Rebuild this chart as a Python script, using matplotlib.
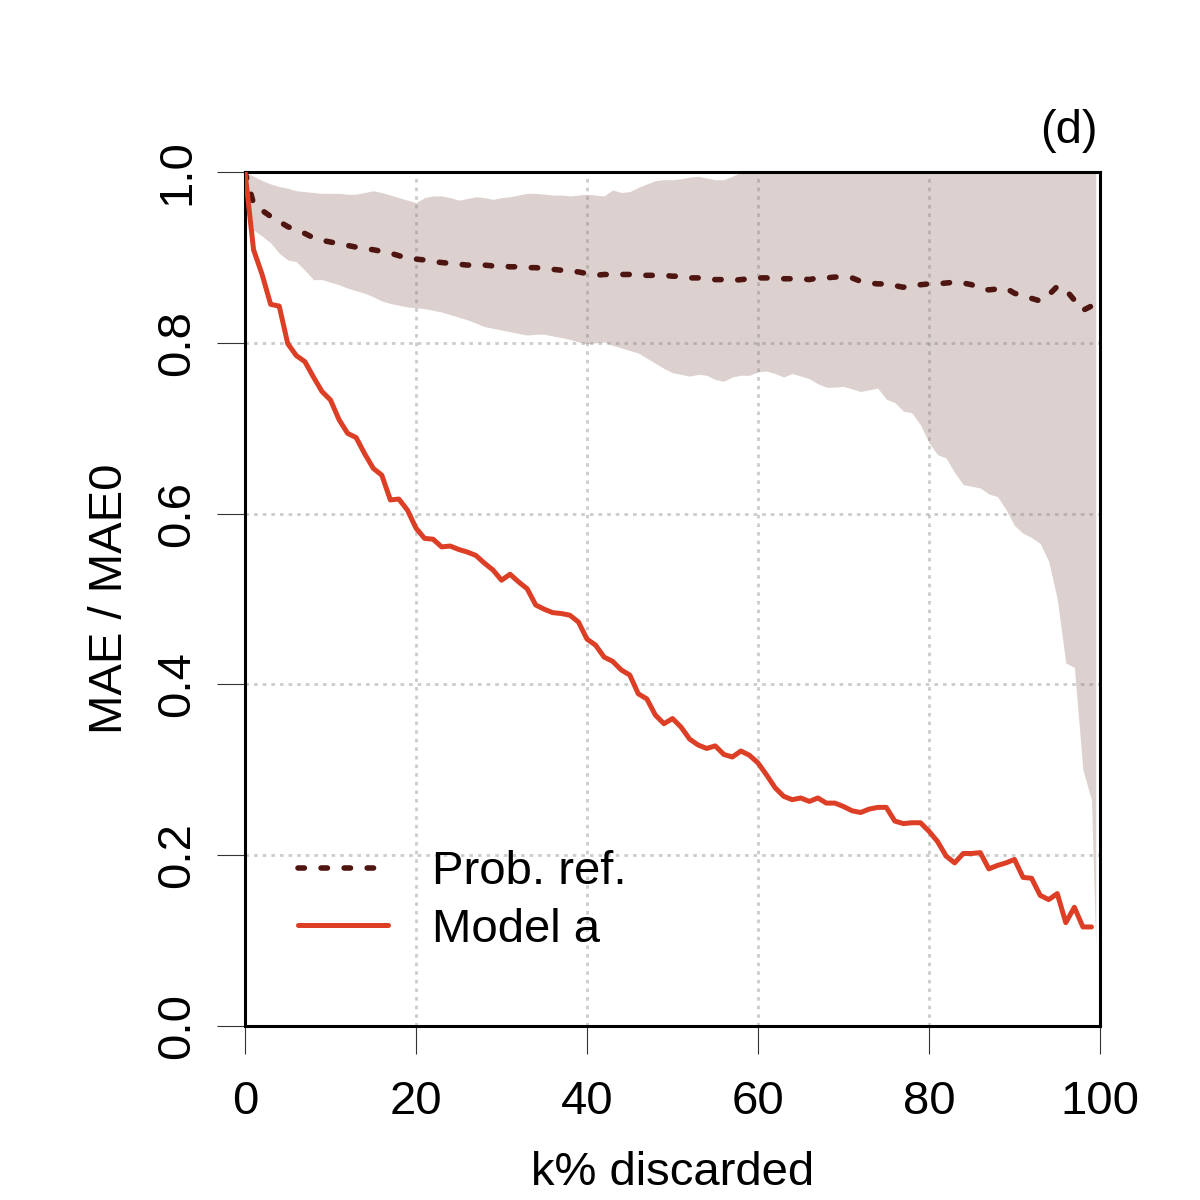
import numpy as np
import matplotlib
matplotlib.use("Agg")
import matplotlib.pyplot as plt

# k% discarded, one value per percent
k = list(range(0, 100))

model_a = [1.000, 0.909, 0.880, 0.845, 0.843, 0.799, 0.785, 0.778, 0.760, 0.743,
           0.733, 0.710, 0.694, 0.689, 0.670, 0.653, 0.645, 0.616, 0.617, 0.604,
           0.583, 0.571, 0.570, 0.561, 0.562, 0.558, 0.555, 0.551, 0.542, 0.534,
           0.522, 0.529, 0.520, 0.512, 0.493, 0.488, 0.484, 0.483, 0.481, 0.473,
           0.453, 0.446, 0.432, 0.427, 0.417, 0.411, 0.389, 0.383, 0.364, 0.354,
           0.360, 0.350, 0.336, 0.329, 0.325, 0.328, 0.318, 0.315, 0.322, 0.317,
           0.308, 0.294, 0.279, 0.269, 0.265, 0.267, 0.263, 0.267, 0.261, 0.261,
           0.257, 0.252, 0.250, 0.254, 0.256, 0.256, 0.240, 0.237, 0.238, 0.238,
           0.228, 0.216, 0.199, 0.191, 0.202, 0.202, 0.203, 0.184, 0.188, 0.191,
           0.195, 0.174, 0.173, 0.153, 0.148, 0.155, 0.121, 0.139, 0.116, 0.116]

prob_ref = [1.000, 0.963, 0.955, 0.948, 0.942, 0.936, 0.932, 0.928, 0.923, 0.920,
            0.918, 0.916, 0.914, 0.912, 0.910, 0.909, 0.907, 0.905, 0.902, 0.899,
            0.898, 0.897, 0.895, 0.894, 0.893, 0.892, 0.891, 0.891, 0.891, 0.890,
            0.890, 0.889, 0.889, 0.888, 0.888, 0.887, 0.886, 0.885, 0.884, 0.883,
            0.881, 0.879, 0.880, 0.880, 0.880, 0.880, 0.879, 0.879, 0.879, 0.879,
            0.878, 0.878, 0.876, 0.876, 0.875, 0.874, 0.874, 0.873, 0.874, 0.875,
            0.876, 0.876, 0.875, 0.875, 0.875, 0.875, 0.874, 0.876, 0.876, 0.877,
            0.877, 0.876, 0.872, 0.870, 0.869, 0.869, 0.867, 0.865, 0.868, 0.868,
            0.869, 0.869, 0.870, 0.871, 0.870, 0.868, 0.863, 0.862, 0.863, 0.864,
            0.858, 0.855, 0.852, 0.849, 0.856, 0.866, 0.862, 0.850, 0.838, 0.843]

# spread of the probabilistic reference (shaded band)
band_k = list(range(0, 100)) + [99.5]
band_hi = [1.000, 0.995, 0.990, 0.986, 0.983, 0.981, 0.978, 0.977, 0.976, 0.975,
           0.975, 0.975, 0.974, 0.974, 0.976, 0.978, 0.976, 0.973, 0.970, 0.967,
           0.964, 0.970, 0.972, 0.972, 0.970, 0.967, 0.969, 0.971, 0.970, 0.968,
           0.970, 0.971, 0.973, 0.975, 0.975, 0.974, 0.973, 0.973, 0.972, 0.973,
           0.974, 0.973, 0.972, 0.979, 0.976, 0.977, 0.982, 0.986, 0.990, 0.991,
           0.991, 0.992, 0.994, 0.995, 0.993, 0.991, 0.991, 0.995] + [1.0] * 43
band_lo = [1.000, 0.932, 0.925, 0.917, 0.905, 0.897, 0.895, 0.885, 0.874, 0.874,
           0.871, 0.868, 0.864, 0.861, 0.858, 0.854, 0.849, 0.846, 0.844, 0.842,
           0.841, 0.840, 0.838, 0.836, 0.833, 0.830, 0.827, 0.823, 0.819, 0.817,
           0.815, 0.813, 0.811, 0.809, 0.810, 0.810, 0.808, 0.806, 0.804, 0.801,
           0.799, 0.800, 0.801, 0.797, 0.794, 0.791, 0.788, 0.782, 0.776, 0.770,
           0.765, 0.763, 0.761, 0.763, 0.762, 0.757, 0.755, 0.760, 0.762, 0.762,
           0.766, 0.767, 0.764, 0.760, 0.764, 0.761, 0.758, 0.752, 0.748, 0.748,
           0.749, 0.746, 0.743, 0.745, 0.747, 0.734, 0.730, 0.720, 0.718, 0.704,
           0.683, 0.669, 0.665, 0.648, 0.634, 0.632, 0.630, 0.623, 0.620, 0.605,
           0.586, 0.577, 0.572, 0.565, 0.544, 0.500, 0.425, 0.420, 0.300, 0.265,
           0.095]

xticks = [0, 20, 40, 60, 80, 100]
yticks = [0.0, 0.2, 0.4, 0.6, 0.8, 1.0]

plt.rcParams['font.family'] = ['Liberation Sans', 'DejaVu Sans']
plt.rcParams['lines.scale_dashes'] = False
fs = 34

fig = plt.figure(figsize=(12, 12), dpi=100)
ax = fig.add_axes([245 / 1200, 1 - 1026 / 1200, 855 / 1200, 854 / 1200])

ax.fill_between(band_k, band_lo, band_hi, color='#dcd1cf', linewidth=0, zorder=0.2)

ax.grid(True, color='#808080', alpha=0.4, linewidth=2.0, linestyle=(0, (2.6, 3.6)))
ax.set_axisbelow(True)

ax.plot(k, prob_ref, color='#4e1511', linewidth=4.0, linestyle=(0, (4.6, 12.0)),
        dash_capstyle='round', label='Prob. ref.', zorder=3)
ax.plot(k, model_a, color='#dc3f26', linewidth=3.6, label='Model a', zorder=4,
        solid_capstyle='round')

ax.set_xlim(0, 100)
ax.set_ylim(0, 1)
ax.set_xticks(xticks)
ax.set_yticks(yticks)
ax.set_xticklabels([str(t) for t in xticks])
ax.set_yticklabels(['%.1f' % t for t in yticks], rotation=90, va='center')
ax.tick_params(axis='both', length=20, width=0.8, color='#333333', labelsize=fs)
ax.tick_params(axis='x', pad=19)
ax.tick_params(axis='y', pad=13)
for sp in ax.spines.values():
    sp.set_linewidth(2.2)
    sp.set_color('black')

ax.set_xlabel('k% discarded', fontsize=fs, labelpad=19)
ax.set_ylabel('MAE / MAE0', fontsize=fs, labelpad=17)
ax.text(0.997, 1.022, '(d)', transform=ax.transAxes, ha='right', va='bottom', fontsize=fs)

ax.legend(loc='lower left', bbox_to_anchor=(0.062, 0.087), frameon=False, fontsize=fs,
          handlelength=1.9, handletextpad=0.93, labelspacing=0.28, borderpad=0,
          borderaxespad=0)

fig.savefig('out.png', dpi=100)
